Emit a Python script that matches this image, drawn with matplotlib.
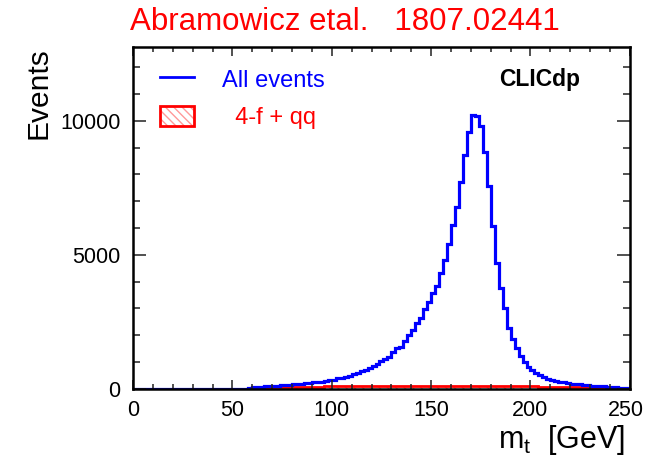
import numpy as np
import matplotlib
matplotlib.use("Agg")
import matplotlib.pyplot as plt
import matplotlib.transforms as mtransforms
from matplotlib.lines import Line2D
from matplotlib.patches import Patch
from matplotlib.legend_handler import HandlerTuple

plt.rcParams['font.family'] = ['Liberation Sans', 'DejaVu Sans']
plt.rcParams['mathtext.default'] = 'regular'
plt.rcParams['hatch.linewidth'] = 1.0

# Reconstructed top mass, 2 GeV bins from 0 to 250 GeV
bin_edges = np.arange(0, 252, 2)

all_events = [
    # 0 - 56
    0, 0, 0, 0, 0, 0, 0, 0, 0, 0, 0, 0, 0, 0,
    0, 0, 0, 0, 0, 0, 0, 0, 0, 0, 0, 0, 0, 0,
    # 56 - 60
    10, 30,
    # 60 - 80
    60, 70, 80, 90, 100, 110, 120, 130, 140, 150,
    # 80 - 100
    165, 180, 190, 205, 220, 240, 255, 275, 300, 325,
    # 100 - 120
    350, 390, 420, 460, 500, 540, 600, 650, 720, 790,
    # 120 - 140
    860, 940, 1030, 1110, 1200, 1390, 1520, 1580, 1770, 2010,
    # 140 - 160
    2200, 2450, 2640, 2970, 3260, 3570, 3820, 4340, 4810, 5410,
    # 160 - 180
    6120, 6800, 7730, 8730, 9600, 10220, 10180, 9800, 8850, 7570,
    # 180 - 200
    6090, 4700, 3770, 3020, 2270, 1870, 1530, 1230, 1020, 830,
    # 200 - 220
    690, 580, 510, 440, 380, 330, 300, 270, 240, 220,
    # 220 - 240
    195, 180, 165, 150, 135, 125, 115, 105, 90, 80,
    # 240 - 250
    70, 60, 50, 40, 30,
]

background_4f_qq = [
    # 0 - 64
    0, 0, 0, 0, 0, 0, 0, 0, 0, 0, 0, 0, 0, 0, 0, 0,
    0, 0, 0, 0, 0, 0, 0, 0, 0, 0, 0, 0, 0, 0, 0, 0,
    # 64 - 80
    30, 45, 55, 60, 65, 70, 72, 75,
    # 80 - 100
    78, 80, 82, 84, 85, 86, 88, 88, 90, 90,
    # 100 - 120
    92, 92, 94, 95, 95, 96, 96, 98, 98, 100,
    # 120 - 140
    100, 100, 102, 102, 104, 104, 105, 105, 106, 106,
    # 140 - 160
    108, 108, 110, 110, 110, 112, 112, 112, 114, 114,
    # 160 - 180
    115, 116, 118, 120, 122, 122, 120, 118, 116, 114,
    # 180 - 200
    112, 110, 108, 106, 104, 102, 100, 98, 96, 94,
    # 200 - 220
    92, 90, 88, 86, 84, 82, 80, 78, 76, 74,
    # 220 - 240
    70, 66, 62, 58, 54, 48, 40, 30, 0, 0,
    # 240 - 250
    0, 0, 0, 0, 0,
]

x_ticks = [0, 50, 100, 150, 200, 250]
y_ticks = [0, 5000, 10000]

fig = plt.figure(figsize=(6.46, 4.57), dpi=100)
ax = fig.add_axes([0.206, 0.149, 0.769, 0.748])

# background: hatched fill plus solid outline
ax.stairs(background_4f_qq, bin_edges, fill=True, facecolor='none',
          edgecolor='#ff8080', hatch='\\\\\\\\', linewidth=0)
ax.stairs(background_4f_qq, bin_edges, color='red', linewidth=2.0)
# all events
ax.stairs(all_events, bin_edges, color='blue', linewidth=2.3)

ax.set_xlim(0, 250)
ax.set_ylim(0, 12750)
ax.set_xticks(x_ticks)
ax.set_yticks(y_ticks)
ax.set_xticks(np.arange(0, 251, 10), minor=True)
ax.set_yticks(np.arange(0, 12751, 1000), minor=True)

ax.tick_params(axis='both', which='both', direction='in', top=True, right=True,
               labelsize=15.5, width=1.1, color='#222222')
ax.tick_params(axis='x', which='major', length=6.5, pad=8)
ax.tick_params(axis='x', which='minor', length=3.6)
ax.tick_params(axis='y', which='major', length=9.4, pad=9)
ax.tick_params(axis='y', which='minor', length=5.0)
for sp in ax.spines.values():
    sp.set_linewidth(1.8)

# keep the last x tick label inside the canvas
last_lbl = ax.get_xticklabels()[-1]
last_lbl.set_transform(last_lbl.get_transform() +
                       mtransforms.ScaledTranslation(-0.035, 0, fig.dpi_scale_trans))

ax.set_ylabel('Events', fontsize=21.5, loc='top')
ax.yaxis.set_label_coords(-0.163, 1.0)
ax.set_xlabel('m$_{t}$  [GeV]', fontsize=22, loc='right')
ax.xaxis.set_label_coords(0.99, -0.1)

# legend
h_all = Line2D([], [], color='blue', linewidth=2.0)
h_bkg = (Patch(facecolor='white', edgecolor='#ff9999', hatch='\\\\\\\\', linewidth=0),
         Patch(facecolor='none', edgecolor='red', linewidth=2.0))
leg = ax.legend([h_all, h_bkg], ['All events', '  4-f + qq'],
                handler_map={tuple: HandlerTuple(ndivide=1, pad=0)},
                loc='upper left', bbox_to_anchor=(0.011, 1.0), frameon=False,
                fontsize=17, handlelength=1.45, handleheight=0.95,
                handletextpad=1.2, labelspacing=0.6,
                labelcolor=['blue', 'red'])

ax.text(0.9, 0.904, 'CLICdp', transform=ax.transAxes, ha='right', va='center',
        fontsize=16.5, fontweight='bold', color='black')

fig.text(0.534, 0.952, 'Abramowicz etal.   1807.02441', ha='center', va='center',
         fontsize=22.5, color='red')

fig.savefig('out.png', dpi=100)
